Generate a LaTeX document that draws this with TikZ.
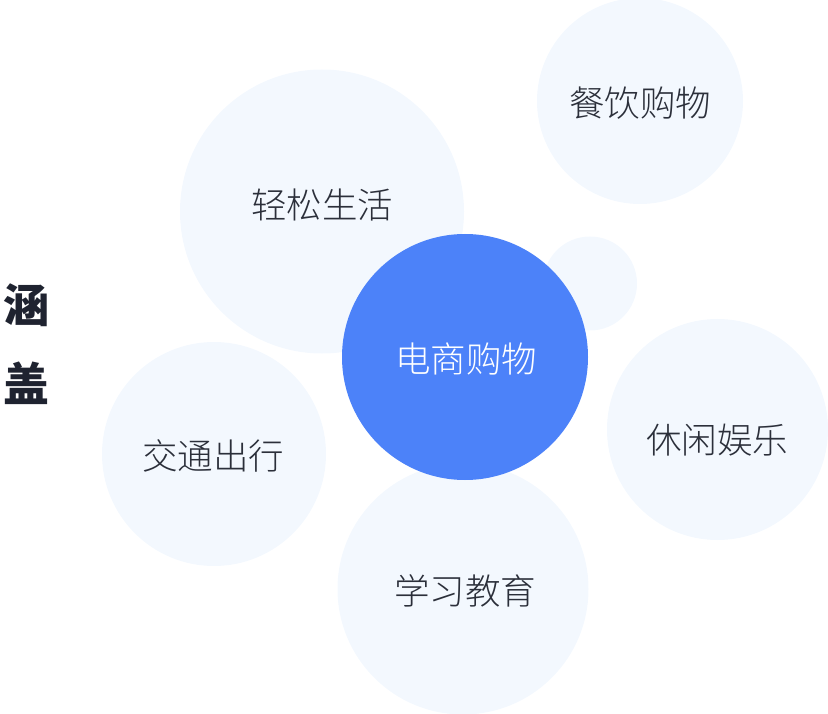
\documentclass[tikz,border=0pt]{standalone}
\usepackage{fontspec}
\setmainfont{Noto Sans CJK SC}
\newfontfamily\cjk{Noto Sans CJK SC}
\newfontfamily\cjklight{Noto Sans CJK SC}[UprightFont=* Light]
\definecolor{lightbub}{HTML}{F3F8FE}
\definecolor{mainblue}{HTML}{4C82F9}
\definecolor{txtdark}{HTML}{2B2F3A}
\definecolor{titledark}{HTML}{1F2330}
\tikzset{
  bubble/.style={circle, fill=lightbub, draw=none, inner sep=0pt},
  mainbub/.style={circle, fill=mainblue, draw=none, inner sep=0pt},
  lbl/.style={text=txtdark, font=\cjklight\fontsize{35.5}{40}\selectfont, inner sep=0pt},
  mainlbl/.style={text=white, font=\cjklight\fontsize{35.5}{40}\selectfont, inner sep=0pt},
  ttl/.style={text=titledark, font=\cjk\bfseries\fontsize{46}{50}\selectfont, inner sep=0pt}
}
\begin{document}
\begin{tikzpicture}[x=1pt,y=-1pt]
\useasboundingbox (0,0) rectangle (828,714);
\node[bubble, minimum size=284pt] (c1) at (322,211.5) {};
\node[bubble, minimum size=206pt] (c2) at (640,101) {};
\node[bubble, minimum size=94pt] (c3) at (590,283.5) {};
\node[bubble, minimum size=224pt] (c4) at (214,454) {};
\node[bubble, minimum size=221pt] (c5) at (717.5,429.5) {};
\node[bubble, minimum size=251pt] (c6) at (463,589) {};
\node[mainbub, minimum size=246pt] (c0) at (465,357) {};
\node[lbl] (t1) at (322,205) {轻松生活};
\node[lbl] (t2) at (640,103) {餐饮购物};
\node[lbl] (t4) at (213,456) {交通出行};
\node[lbl] (t5) at (717,440) {休闲娱乐};
\node[lbl] (t6) at (465,591) {学习教育};
\node[mainlbl] (t0) at (466,359) {电商购物};
\node[ttl] (h1) at (26,305) {涵};
\node[ttl] (h2) at (26,383) {盖};
\end{tikzpicture}
\end{document}
